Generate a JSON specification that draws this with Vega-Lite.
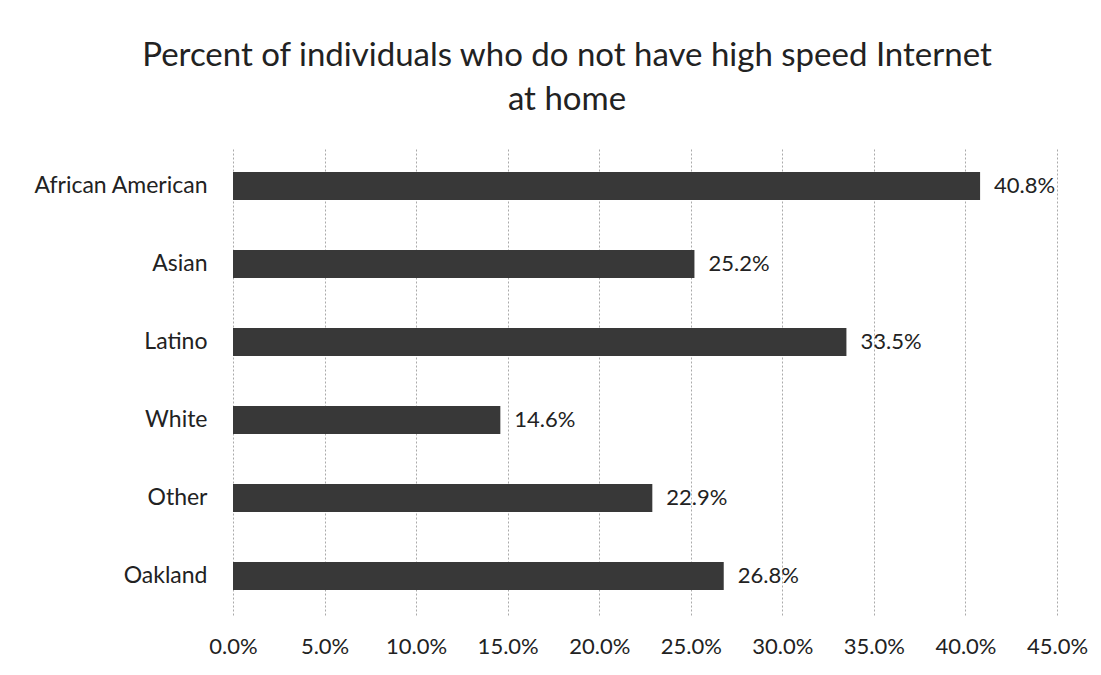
{
  "$schema": "https://vega.github.io/schema/vega-lite/v6.json",
  "width": 824,
  "height": 468,
  "autosize": {"type": "none"},
  "padding": {"left": 233, "top": 147, "right": 44, "bottom": 60},
  "background": "white",
  "title": {
    "text": ["Percent of individuals who do not have high speed Internet", "at home"],
    "fontSize": 33,
    "font": "Lato",
    "fontWeight": "normal",
    "color": "#222222",
    "lineHeight": 44,
    "anchor": "middle",
    "dx": -78,
    "offset": 30
  },
  "config": {"view": {"stroke": null}},
  "data": {
    "values": [
      {"group": "African American", "pct": 0.408},
      {"group": "Asian", "pct": 0.252},
      {"group": "Latino", "pct": 0.335},
      {"group": "White", "pct": 0.146},
      {"group": "Other", "pct": 0.229},
      {"group": "Oakland", "pct": 0.268}
    ]
  },
  "encoding": {
    "y": {
      "field": "group",
      "type": "nominal",
      "sort": null,
      "scale": {"paddingInner": 0.64, "paddingOuter": 0.32},
      "axis": {
        "title": null,
        "domain": false,
        "ticks": false,
        "labelPadding": 26,
        "labelFont": "Lato",
        "labelFontSize": 23,
        "labelColor": "#222222"
      }
    },
    "x": {
      "field": "pct",
      "type": "quantitative",
      "scale": {"domain": [0, 0.45], "nice": false},
      "axis": {
        "title": null,
        "format": ".1%",
        "values": [0, 0.05, 0.1, 0.15, 0.2, 0.25, 0.3, 0.35, 0.4, 0.45],
        "domain": false,
        "ticks": false,
        "grid": true,
        "gridDash": [2, 2],
        "gridColor": "#aaaaaa",
        "labelFlush": false,
        "labelOverlap": false,
        "labelPadding": 21,
        "labelFont": "Lato",
        "labelFontSize": 22,
        "labelColor": "#222222"
      }
    }
  },
  "layer": [
    {"mark": {"type": "bar", "color": "#383838"}},
    {
      "mark": {"type": "text", "align": "left", "baseline": "middle", "dx": 14, "font": "Lato", "fontSize": 22, "color": "#222222"},
      "encoding": {"text": {"field": "pct", "type": "quantitative", "format": ".1%"}}
    }
  ]
}
